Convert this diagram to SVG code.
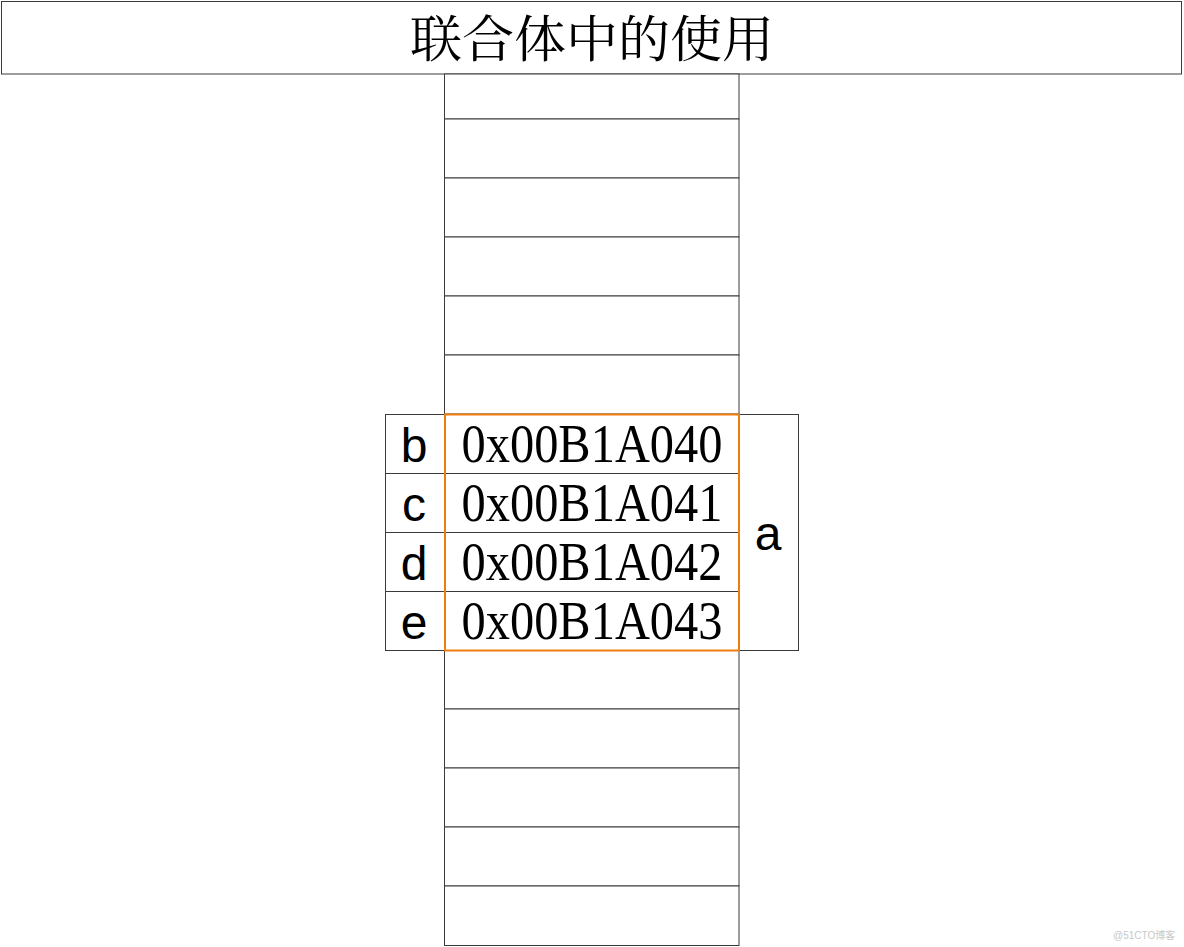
<svg xmlns="http://www.w3.org/2000/svg" width="1184" height="947" viewBox="0 0 1184 947">
<style>
.cell{fill:#fff;stroke:#3a3a3a;stroke-width:1}
.hl{fill:none;stroke:#ef7d10;stroke-width:2}
.addr{font-family:"Liberation Serif","Noto Serif CJK SC",serif;font-size:54px;fill:#000;text-anchor:middle}
.lbl{font-family:"Liberation Sans",Arial,sans-serif;font-size:48px;fill:#000;text-anchor:middle}
.title{font-family:"Noto Serif CJK SC","Noto Sans CJK SC",serif;font-size:50px;fill:#000;text-anchor:middle}
.wm{font-family:"Liberation Sans","Noto Sans CJK SC",sans-serif;font-size:10px;fill:#c8c8c8}
</style>
<rect width="1184" height="947" fill="#fff"/>
<g id="title">
<rect class="cell" x="1.5" y="1.5" width="1180" height="72.5"/>
<text class="title" x="592" y="57" textLength="364" lengthAdjust="spacingAndGlyphs">联合体中的使用</text>
</g>
<g id="memory">
<rect class="cell" x="444.5" y="74" width="294.5" height="45"/>
<rect class="cell" x="444.5" y="119" width="294.5" height="59"/>
<rect class="cell" x="444.5" y="178" width="294.5" height="59"/>
<rect class="cell" x="444.5" y="237" width="294.5" height="59"/>
<rect class="cell" x="444.5" y="296" width="294.5" height="59"/>
<rect class="cell" x="444.5" y="355" width="294.5" height="59"/>
<rect class="cell" x="444.5" y="650" width="294.5" height="59"/>
<rect class="cell" x="444.5" y="709" width="294.5" height="59"/>
<rect class="cell" x="444.5" y="768" width="294.5" height="59"/>
<rect class="cell" x="444.5" y="827" width="294.5" height="59"/>
<rect class="cell" x="444.5" y="886" width="294.5" height="59.5"/>
</g>
<g id="labels">
<rect class="cell" x="385.5" y="414.5" width="59" height="59"/>
<rect class="cell" x="385.5" y="473.5" width="59" height="59"/>
<rect class="cell" x="385.5" y="532.5" width="59" height="59"/>
<rect class="cell" x="385.5" y="591.5" width="59" height="59"/>
<text class="lbl" x="414" y="462">b</text>
<text class="lbl" x="414" y="521">c</text>
<text class="lbl" x="414" y="580">d</text>
<text class="lbl" x="414" y="639">e</text>
</g>
<g id="a">
<rect class="cell" x="739" y="414.5" width="59.5" height="236"/>
<text class="lbl" x="768" y="550">a</text>
</g>
<g id="addresses">
<rect class="cell" x="445" y="414.5" width="294" height="59"/>
<rect class="cell" x="445" y="473.5" width="294" height="59"/>
<rect class="cell" x="445" y="532.5" width="294" height="59"/>
<rect class="cell" x="445" y="591.5" width="294" height="59"/>
<text class="addr" x="592" y="462" textLength="261" lengthAdjust="spacingAndGlyphs">0x00B1A040</text>
<text class="addr" x="592" y="521" textLength="261" lengthAdjust="spacingAndGlyphs">0x00B1A041</text>
<text class="addr" x="592" y="580" textLength="261" lengthAdjust="spacingAndGlyphs">0x00B1A042</text>
<text class="addr" x="592" y="639" textLength="261" lengthAdjust="spacingAndGlyphs">0x00B1A043</text>
<rect class="hl" x="445" y="414.5" width="294" height="236"/>
</g>
<g id="connectors"></g>
<text class="wm" x="1113" y="939">@51CTO博客</text>
</svg>
